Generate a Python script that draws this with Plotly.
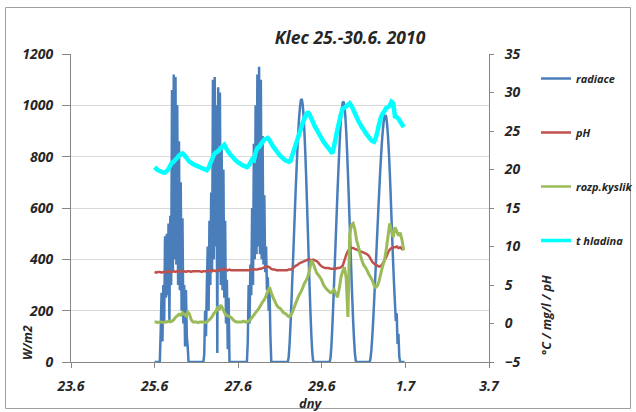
import pandas as pd
import plotly.graph_objects as go

title_text = "Klec 25.-30.6. 2010"
series_names = ["radiace", "pH", "rozp.kyslik", "t hladina"]

# radiation W/m2, half-hourly from 25.6.2010 00:00
radiace = [
    # 25.6
    0, 0, 0, 0, 0, 0,
    0, 120, 270, 80, 300, 160, 490, 250, 500, 260, 540, 160, 570, 300, 1060, 350, 1120, 400,
    1110, 380, 1000, 300, 860, 280, 700, 200, 560, 150, 300, 60, 280, 100, 60, 0,
    0, 0, 0, 0, 0, 0, 0, 0,
    # 26.6
    0, 0, 0, 0, 0, 0, 0, 0, 0,
    30, 200, 100, 300, 450, 200, 550, 300, 660, 350, 1100, 400, 1110, 450, 1000, 35, 1070,
    350, 1050, 300, 830, 280, 750, 250, 550, 150, 320, 50, 250,
    0, 0, 0, 0, 0, 0, 0, 0, 0, 0,
    # 27.6
    0, 0, 0, 0, 0, 0, 0, 0, 0, 0, 0,
    80, 300, 150, 380, 260, 600, 300, 850, 400, 1000, 420, 1120, 450, 1150, 420, 1100, 400,
    880, 380, 650, 350, 450, 280, 330, 200, 280, 100,
    0, 0, 0, 0, 0, 0, 0, 0, 0, 0,
    # 28.6
    0, 0, 0, 0, 0, 0, 0, 0, 0, 0,
    20, 70, 140, 220, 310, 400, 490, 580, 670, 750, 830, 900, 955, 995, 1020, 1025, 1005, 965,
    900, 820, 725, 620, 510, 400, 290, 190, 105, 40, 5, 0,
    0, 0, 0, 0, 0, 0, 0, 0,
    # 29.6
    0, 0, 0, 0, 0, 0, 0, 0, 0, 0,
    15, 60, 130, 210, 300, 390, 480, 570, 660, 740, 820, 890, 945, 985, 1010, 1015, 1000, 960,
    900, 825, 735, 640, 540, 440, 340, 245, 160, 90, 35, 5, 0,
    0, 0, 0, 0, 0, 0, 0,
    # 30.6
    0, 0, 0, 0, 0, 0, 0, 0,
    15, 50, 100, 160, 230, 300, 375, 450, 525, 600, 670, 740, 800, 855, 900, 935, 955, 962,
    955, 925, 880, 820, 745, 660, 565, 470, 380, 300, 230, 160, 190, 70, 110, 20, 0,
    0, 0, 0, 0, 0,
]

# hourly from 25.6.2010 00:00
ph = [
    6.7, 6.6, 6.7, 6.7, 6.6, 6.7, 6.7, 6.7, 6.8, 6.7, 6.7, 6.8, 6.7, 6.8, 6.8, 6.7, 6.8, 6.8, 6.7, 6.8, 6.8, 6.7, 6.8, 6.8,
    6.8, 6.8, 6.8, 6.7, 6.8, 6.8, 6.8, 6.8, 6.9, 6.8, 6.9, 6.8, 6.9, 6.9, 7.0, 7.0, 7.1, 7.0, 6.9, 7.0, 6.9, 6.9, 6.9, 6.9,
    6.9, 6.9, 6.9, 6.9, 6.9, 6.9, 6.9, 7.0, 7.0, 7.0, 7.0, 7.0, 7.1, 7.1, 7.2, 7.3, 7.4, 7.4, 7.3, 7.1, 7.0, 7.0, 6.9, 6.9,
    6.9, 6.9, 6.9, 6.9, 6.9, 7.0, 7.0, 7.1, 7.3, 7.5, 7.6, 7.8, 7.9, 8.0, 8.1, 8.2, 8.3, 8.3, 8.2, 8.3, 8.2, 8.1, 7.9, 7.6,
    7.4, 7.3, 7.2, 7.2, 7.2, 7.1, 7.1, 7.1, 7.1, 7.2, 7.2, 7.3, 7.5, 8.2, 8.9, 9.4, 9.7, 9.8, 9.8, 9.7, 9.6, 9.5, 9.4, 9.3,
    9.2, 9.1, 9.0, 8.8, 8.4, 8.0, 7.8, 7.6, 7.5, 7.4, 7.5, 7.8, 8.2, 8.6, 9.2, 9.6, 9.8, 9.9, 9.9, 10.0, 9.8, 9.9, 9.7, 9.6,
]

kyslik = [
    0.2, 0.2, 0.1, 0.2, 0.2, 0.1, 0.2, 0.2, 0.3, 0.2, 0.3, 0.5, 0.8, 1.0, 1.2, 1.1, 1.4, 1.2, 1.0, 1.5, 1.2, 0.5, 0.2, 0.2,
    0.2, 0.1, 0.2, 0.2, 0.2, 0.1, 0.2, 0.4, 0.6, 0.9, 1.3, 1.5, 2.0, 1.7, 2.4, 2.0, 1.5, 1.1, 1.0, 0.9, 0.8, 0.5, 0.3, 0.2,
    0.2, 0.2, 0.2, 0.3, 0.2, 0.2, 0.3, 0.5, 0.8, 1.1, 1.4, 1.7, 2.0, 2.4, 2.8, 3.1, 3.6, 4.2, 4.7, 4.0, 3.4, 2.9, 2.4, 2.1,
    2.0, 1.7, 1.4, 1.3, 1.1, 0.9, 1.0, 1.4, 2.0, 2.6, 3.2, 3.7, 4.1, 4.6, 5.2, 5.6, 6.1, 7.0, 8.2, 7.8, 7.2, 6.6, 6.3, 6.0,
    5.6, 5.0, 4.7, 4.4, 4.2, 4.0, 4.1, 4.4, 3.9, 3.4, 4.5, 6.0, 6.8, 7.3, 5.9, 0.85, 11.5, 12.8, 13.0, 12.2, 10.8, 10.0, 9.0, 8.2,
    7.6, 7.3, 6.9, 6.4, 6.0, 5.6, 5.0, 4.7, 4.9, 5.6, 6.6, 7.5, 8.2, 9.6, 11.3, 13.0, 12.0, 11.2, 12.5, 12.0, 11.4, 11.8, 10.9, 9.5,
]

t_hladina = [
    20.3, 20.1, 19.9, 19.8, 19.7, 19.6, 19.6, 19.8, 20.1, 20.5, 20.9, 21.0, 21.3, 21.5, 21.8, 22.0, 22.1, 21.9, 21.6, 21.3, 21.0, 20.9, 20.7, 20.6,
    20.5, 20.4, 20.3, 20.2, 20.1, 20.0, 19.9, 20.2, 20.8, 21.3, 21.9, 22.2, 22.3, 22.5, 22.8, 23.0, 23.2, 22.8, 22.4, 22.1, 21.8, 21.6, 21.3, 21.1,
    20.9, 20.8, 20.6, 20.5, 20.4, 20.3, 20.5, 20.9, 21.3, 21.2, 22.2, 22.8, 22.9, 23.3, 23.6, 23.9, 24.0, 24.1, 23.8, 23.4, 23.0, 22.7, 22.4, 22.1,
    21.8, 21.6, 21.4, 21.2, 21.1, 21.0, 21.1, 21.8, 22.5, 23.2, 23.9, 24.6, 25.3, 26.0, 26.6, 27.1, 27.5, 27.1, 26.6, 26.1, 25.6, 25.2, 24.8, 24.4,
    24.0, 23.6, 23.3, 23.0, 22.7, 22.4, 22.1, 23.0, 24.1, 25.2, 26.2, 27.2, 27.9, 28.0, 28.2, 28.4, 28.6, 28.3, 27.8, 27.3, 26.8, 26.3, 25.9, 25.5,
    25.2, 24.8, 24.5, 24.2, 23.9, 23.7, 23.6, 24.1, 25.0, 26.0, 26.8, 27.3, 27.6, 28.0, 28.1, 28.3, 28.8, 28.6, 26.9, 26.8, 26.6, 26.2, 25.9, 25.5,
]

assert len(radiace) == 288, len(radiace)
assert len(ph) == len(kyslik) == len(t_hladina) == 144

rad_time = pd.date_range("2010-06-25 00:00", periods=len(radiace), freq="30min")
hour_time = pd.date_range("2010-06-25 00:00", periods=len(ph), freq="1h")

FONT = "Open Sans"
AXIS_COL = "#868686"
TXT = "#262626"
tickfont = dict(family=FONT, size=14, color=TXT, weight="bold", style="italic")

colors = ["#4a7ebb", "#c0504d", "#9bbb59", "#00ffff"]
widths = [2.5, 2.5, 3, 4.5]
legend_widths = [2.5, 2.5, 2.5, 3.5]

fig = go.Figure()
data_series = [(rad_time, radiace, "y"), (hour_time, ph, "y2"),
               (hour_time, kyslik, "y2"), (hour_time, t_hladina, "y2")]
for i, (xs, ys, ax) in enumerate(data_series):
    fig.add_trace(go.Scatter(x=xs, y=ys, name=series_names[i], mode="lines", yaxis=ax,
                             line=dict(color=colors[i], width=widths[i], simplify=False),
                             showlegend=False, legendgroup=series_names[i]))
# legend entries (uniform line thickness like the original legend)
for i in range(4):
    fig.add_trace(go.Scatter(x=[None], y=[None], name=series_names[i], mode="lines",
                             yaxis=data_series[i][2],
                             line=dict(color=colors[i], width=legend_widths[i]),
                             showlegend=True, legendgroup=series_names[i]))

L, R, T, B = 71, 489, 54, 362
W, H = 636, 412

def px_x(px):
    return (px - L) / (R - L)

def px_y(py):
    return (B - py) / (B - T)

fig.update_layout(
    width=W, height=H,
    margin=dict(l=L, r=W - R, t=T, b=H - B, pad=0, autoexpand=False),
    paper_bgcolor="white", plot_bgcolor="white",
    showlegend=True,
    legend=dict(x=px_x(536), xanchor="left", y=px_y(64), yanchor="top",
                font=dict(family=FONT, size=11, color=TXT, weight="bold", style="italic"),
                tracegroupgap=35, bgcolor="rgba(0,0,0,0)", itemwidth=30),
    title=dict(text=title_text, x=350 / W, xref="container", xanchor="center",
               y=1 - 38 / H, yref="container", yanchor="middle",
               font=dict(family=FONT, size=17.5, color=TXT, weight="bold", style="italic")),
    xaxis=dict(type="date", range=["2010-06-23", "2010-07-03"], tick0="2010-06-23",
               dtick=2 * 86400000, tickformat="%-d.%-m", ticks="outside", ticklen=5,
               tickcolor=AXIS_COL, showline=True, linecolor=AXIS_COL, showgrid=False,
               tickfont=tickfont, ticklabelstandoff=6),
    yaxis=dict(range=[0, 1200], dtick=200, showgrid=True, gridcolor="#d9d9d9",
               showline=True, linecolor=AXIS_COL, ticks="outside", ticklen=8, tickcolor=AXIS_COL,
               zeroline=False, tickfont=tickfont, ticklabelstandoff=6),
    yaxis2=dict(range=[-5, 35], dtick=5, overlaying="y", side="right", showgrid=False,
                showline=True, linecolor=AXIS_COL, ticks="outside", ticklen=4, tickcolor=AXIS_COL,
                zeroline=False, tickfont=tickfont, ticklabelstandoff=8),
)

axis_title_font = dict(family=FONT, size=12.5, color=TXT, weight="bold", style="italic")
fig.add_annotation(text="W/m2", x=px_x(27), y=px_y(343), xref="paper", yref="paper",
                   xanchor="center", yanchor="middle",
                   textangle=-90, showarrow=False, font=axis_title_font)
fig.add_annotation(text="°C / mg/l / pH", x=px_x(546), y=px_y(315), xref="paper", yref="paper",
                   xanchor="center", yanchor="middle",
                   textangle=-90, showarrow=False, font=axis_title_font)
fig.add_annotation(text="dny", x=px_x(311), y=px_y(403), xref="paper", yref="paper",
                   xanchor="center", yanchor="middle",
                   showarrow=False, font=dict(family=FONT, size=13, color=TXT, weight="bold", style="italic"))

# chart-area border
fig.add_shape(type="rect", xref="paper", yref="paper",
              x0=px_x(5.5), x1=px_x(630.5), y0=px_y(408.5), y1=px_y(7.5),
              line=dict(color="#a0a0a0", width=1), fillcolor="rgba(0,0,0,0)", layer="below")

fig.write_html("out.html")
